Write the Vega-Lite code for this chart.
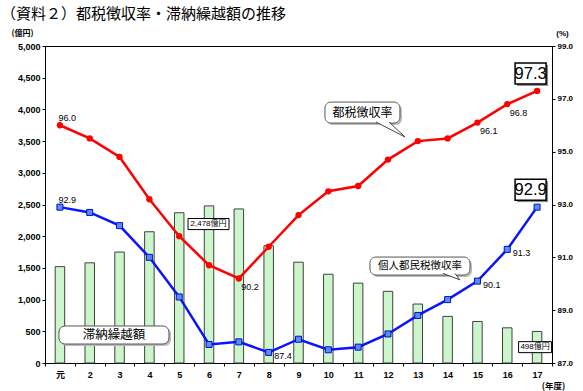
{
  "$schema": "https://vega.github.io/schema/vega-lite/v6.json",
  "width": 507,
  "height": 317,
  "autosize": {"type": "none"},
  "padding": {"left": 45, "top": 46, "right": 31, "bottom": 28},
  "background": "white",
  "title": {
    "text": "（資料２）都税徴収率・滞納繰越額の推移",
    "anchor": "start",
    "frame": "group",
    "font": "Noto Sans CJK JP",
    "fontSize": 15,
    "fontWeight": "normal",
    "color": "#000",
    "dx": -44,
    "offset": 7
  },
  "config": {
    "view": {"stroke": "#000", "strokeWidth": 1},
    "font": "Liberation Sans",
    "axis": {"grid": false, "domainColor": "#000", "tickColor": "#000", "labelColor": "#000", "titleColor": "#000"}
  },
  "datasets": {
    "main": [
      {"year": "元", "amount": 1520, "tax": 96.0, "ind": 92.9},
      {"year": "2", "amount": 1580, "tax": 95.5, "ind": 92.7},
      {"year": "3", "amount": 1750, "tax": 94.8, "ind": 92.2},
      {"year": "4", "amount": 2070, "tax": 93.2, "ind": 91.0},
      {"year": "5", "amount": 2370, "tax": 91.8, "ind": 89.5},
      {"year": "6", "amount": 2478, "tax": 90.7, "ind": 87.7},
      {"year": "7", "amount": 2430, "tax": 90.2, "ind": 87.8},
      {"year": "8", "amount": 1850, "tax": 91.4, "ind": 87.4},
      {"year": "9", "amount": 1590, "tax": 92.6, "ind": 87.9},
      {"year": "10", "amount": 1400, "tax": 93.5, "ind": 87.5},
      {"year": "11", "amount": 1260, "tax": 93.7, "ind": 87.6},
      {"year": "12", "amount": 1130, "tax": 94.7, "ind": 88.1},
      {"year": "13", "amount": 930, "tax": 95.4, "ind": 88.8},
      {"year": "14", "amount": 735, "tax": 95.5, "ind": 89.4},
      {"year": "15", "amount": 655, "tax": 96.1, "ind": 90.1},
      {"year": "16", "amount": 555, "tax": 96.8, "ind": 91.3},
      {"year": "17", "amount": 498, "tax": 97.3, "ind": 92.9}
    ],
    "above": [{"year": "元", "v": 96.0}, {"year": "元", "v": 92.9}],
    "redBelow": [{"year": "7", "v": 90.2}, {"year": "15", "v": 96.1}, {"year": "16", "v": 96.8}],
    "blueRight": [{"year": "8", "v": 87.4}, {"year": "15", "v": 90.1}, {"year": "16", "v": 91.3}],
    "big": [{"year": "17", "v": 97.3}, {"year": "17", "v": 92.9}]
  },
  "encoding": {
    "x": {
      "field": "year",
      "type": "ordinal",
      "sort": null,
      "scale": {"domain": ["元", "2", "3", "4", "5", "6", "7", "8", "9", "10", "11", "12", "13", "14", "15", "16", "17"], "paddingInner": 0, "paddingOuter": 0},
      "axis": {
        "title": "(年度)",
        "titleX": 508,
        "titleY": 22,
        "titleAlign": "center",
        "titleBaseline": "middle",
        "titleFont": "Noto Sans CJK JP",
        "titleFontSize": 8.5,
        "titleFontWeight": "bold",
        "labelAngle": 0,
        "labelFont": "Liberation Sans, Noto Sans CJK JP",
        "labelFontSize": 9,
        "labelFontWeight": "bold",
        "labelPadding": 4,
        "tickBand": "extent",
        "tickSize": 3
      }
    }
  },
  "layer": [
    {
      "data": {"name": "main"},
      "mark": {"type": "bar", "width": 9.5, "fill": "#ccf5cc", "stroke": "#404040", "strokeWidth": 1},
      "encoding": {
        "y": {
          "field": "amount",
          "type": "quantitative",
          "scale": {"domain": [0, 5000], "nice": false},
          "axis": {
            "values": [0, 500, 1000, 1500, 2000, 2500, 3000, 3500, 4000, 4500, 5000],
            "format": ",d",
            "title": "(億円)",
            "titleAngle": 0,
            "titleX": -23,
            "titleY": -13,
            "titleAlign": "center",
            "titleBaseline": "middle",
            "titleFont": "Noto Sans CJK JP",
            "titleFontSize": 8,
            "titleFontWeight": "bold",
            "labelFontSize": 9,
            "labelFontWeight": "bold",
            "labelPadding": 2,
            "tickSize": 3
          }
        }
      }
    },
    {
      "layer": [
        {
          "data": {"name": "main"},
          "mark": {"type": "line", "color": "#ff0000", "strokeWidth": 2.5},
          "encoding": {
            "y": {
              "field": "tax",
              "type": "quantitative",
              "scale": {"domain": [87, 99], "nice": false, "zero": false},
              "axis": {
                "orient": "right",
                "values": [87, 89, 91, 93, 95, 97, 99],
                "format": ".1f",
                "title": "(%)",
                "titleAngle": 0,
                "titleX": 10,
                "titleY": -13,
                "titleAlign": "center",
                "titleBaseline": "middle",
                "titleFontSize": 8,
                "titleFontWeight": "bold",
                "labelFontSize": 8,
                "labelFontWeight": "bold",
                "labelPadding": 2,
                "tickSize": 3
              }
            }
          }
        },
        {
          "data": {"name": "main"},
          "mark": {"type": "point", "filled": true, "shape": "circle", "color": "#ff0000", "size": 40, "opacity": 1},
          "encoding": {"y": {"field": "tax", "type": "quantitative"}}
        },
        {
          "data": {"name": "main"},
          "mark": {"type": "line", "color": "#0a14ff", "strokeWidth": 2.5},
          "encoding": {"y": {"field": "ind", "type": "quantitative"}}
        },
        {
          "data": {"name": "main"},
          "mark": {"type": "point", "shape": "square", "fill": "#5a8cff", "stroke": "#0010c0", "strokeWidth": 1, "fillOpacity": 1, "opacity": 1, "size": 36},
          "encoding": {"y": {"field": "ind", "type": "quantitative"}}
        },
        {
          "data": {"name": "above"},
          "mark": {"type": "text", "fontSize": 9, "color": "#000", "align": "left", "baseline": "middle", "dx": -1.5, "dy": -7.5},
          "encoding": {"y": {"field": "v", "type": "quantitative"}, "text": {"field": "v", "type": "quantitative", "format": ".1f"}}
        },
        {
          "data": {"name": "redBelow"},
          "mark": {"type": "text", "fontSize": 9, "color": "#000", "align": "left", "baseline": "middle", "dx": 2.5, "dy": 8.5},
          "encoding": {"y": {"field": "v", "type": "quantitative"}, "text": {"field": "v", "type": "quantitative", "format": ".1f"}}
        },
        {
          "data": {"name": "blueRight"},
          "mark": {"type": "text", "fontSize": 9, "color": "#000", "align": "left", "baseline": "middle", "dx": 5.5, "dy": 4},
          "encoding": {"y": {"field": "v", "type": "quantitative"}, "text": {"field": "v", "type": "quantitative", "format": ".1f"}}
        },
        {
          "data": {"name": "big"},
          "mark": {"type": "point", "filled": true, "color": "#888888", "opacity": 1, "size": 961, "xOffset": -4.5, "yOffset": -15.5, "shape": "M-1,-0.677H1V0.677H-1Z"},
          "encoding": {"y": {"field": "v", "type": "quantitative"}}
        },
        {
          "data": {"name": "big"},
          "mark": {"type": "point", "fill": "white", "stroke": "#000", "strokeWidth": 1.5, "fillOpacity": 1, "opacity": 1, "size": 961, "xOffset": -6.5, "yOffset": -17.5, "shape": "M-1,-0.677H1V0.677H-1Z"},
          "encoding": {"y": {"field": "v", "type": "quantitative"}}
        },
        {
          "data": {"name": "big"},
          "mark": {"type": "text", "fontSize": 16.5, "color": "#000", "baseline": "middle", "xOffset": -6.5, "yOffset": -17},
          "encoding": {"y": {"field": "v", "type": "quantitative"}, "text": {"field": "v", "type": "quantitative", "format": ".1f"}}
        },
        {
          "data": {"values": [{"note": "滞納繰越額"}]},
          "mark": {"type": "point", "filled": true, "color": "#bbbbbb", "size": 12100, "opacity": 1, "xOffset": -3.6, "yOffset": 2, "shape": "M-0.891,-0.164H0.891A0.109,0.109 0 0 1 1,-0.055V0.055A0.109,0.109 0 0 1 0.891,0.164H-0.891A0.109,0.109 0 0 1 -1,0.055V-0.055A0.109,0.109 0 0 1 -0.891,-0.164Z"},
          "encoding": {"x": {"datum": "3"}, "y": {"datum": 88.06, "type": "quantitative"}}
        },
        {
          "data": {"values": [{"note": "滞納繰越額"}]},
          "mark": {"type": "point", "fill": "white", "stroke": "#555555", "strokeWidth": 1, "opacity": 1, "fillOpacity": 1, "size": 12100, "xOffset": -5.6, "shape": "M-0.891,-0.164H0.891A0.109,0.109 0 0 1 1,-0.055V0.055A0.109,0.109 0 0 1 0.891,0.164H-0.891A0.109,0.109 0 0 1 -1,0.055V-0.055A0.109,0.109 0 0 1 -0.891,-0.164Z"},
          "encoding": {"x": {"datum": "3"}, "y": {"datum": 88.06, "type": "quantitative"}}
        },
        {
          "data": {"values": [{"note": "滞納繰越額"}]},
          "mark": {"type": "text", "font": "Noto Sans CJK JP", "fontSize": 12.5, "color": "#000", "xOffset": -5.6, "baseline": "middle"},
          "encoding": {"x": {"datum": "3"}, "y": {"datum": 88.06, "type": "quantitative"}, "text": {"field": "note"}}
        },
        {
          "data": {"values": [{"label": "2,478億円"}]},
          "mark": {"type": "point", "fill": "white", "stroke": "#000", "strokeWidth": 1, "opacity": 1, "fillOpacity": 1, "size": 1681, "xOffset": -0.5, "shape": "M-1,-0.27H1V0.27H-1Z"},
          "encoding": {"x": {"datum": "6"}, "y": {"datum": 92.26, "type": "quantitative"}}
        },
        {
          "data": {"values": [{"label": "2,478億円"}]},
          "mark": {"type": "text", "font": "Liberation Sans, Noto Sans CJK JP", "fontSize": 8, "color": "#000", "xOffset": -0.5, "baseline": "middle"},
          "encoding": {"x": {"datum": "6"}, "y": {"datum": 92.26, "type": "quantitative"}, "text": {"field": "label"}}
        },
        {
          "data": {"values": [{"label": "498億円"}]},
          "mark": {"type": "point", "fill": "white", "stroke": "#000", "strokeWidth": 1, "opacity": 1, "fillOpacity": 1, "size": 1089, "xOffset": -2, "shape": "M-1,-0.333H1V0.333H-1Z"},
          "encoding": {"x": {"datum": "17"}, "y": {"datum": 87.6, "type": "quantitative"}}
        },
        {
          "data": {"values": [{"label": "498億円"}]},
          "mark": {"type": "text", "font": "Liberation Sans, Noto Sans CJK JP", "fontSize": 8, "color": "#000", "xOffset": -2, "baseline": "middle"},
          "encoding": {"x": {"datum": "17"}, "y": {"datum": 87.6, "type": "quantitative"}, "text": {"field": "label"}}
        },
        {
          "data": {"values": [{"note": "都税徴収率"}]},
          "mark": {"type": "point", "filled": true, "color": "#bbbbbb", "opacity": 1, "size": 5625, "xOffset": 6.3, "yOffset": 2, "shape": "M-0.84,-0.28H0.84A0.16,0.16 0 0 1 1,-0.12V0.12A0.16,0.16 0 0 1 0.84,0.28H-0.84A0.16,0.16 0 0 1 -1,0.12V-0.12A0.16,0.16 0 0 1 -0.84,-0.28Z"},
          "encoding": {"x": {"datum": "11"}, "y": {"datum": 96.48, "type": "quantitative"}}
        },
        {
          "data": {"values": [{"note": "都税徴収率"}]},
          "mark": {"type": "point", "fill": "white", "stroke": "#555555", "strokeWidth": 1, "fillOpacity": 1, "opacity": 1, "size": 5625, "xOffset": 4.3, "shape": "M-0.84,-0.28H0.84A0.16,0.16 0 0 1 1,-0.12V0.12A0.16,0.16 0 0 1 0.84,0.28H-0.84A0.16,0.16 0 0 1 -1,0.12V-0.12A0.16,0.16 0 0 1 -0.84,-0.28Z"},
          "encoding": {"x": {"datum": "11"}, "y": {"datum": 96.48, "type": "quantitative"}}
        },
        {
          "data": {"values": [{"note": "都税徴収率"}]},
          "mark": {"type": "point", "fill": "white", "stroke": "#444444", "strokeWidth": 1, "fillOpacity": 1, "opacity": 1, "size": 841, "xOffset": 2.5, "shape": "M-1,-0.55L1,0.48L-0.1,-0.55"},
          "encoding": {"x": {"datum": "12"}, "y": {"datum": 95.82, "type": "quantitative"}}
        },
        {
          "data": {"values": [{"note": "都税徴収率"}]},
          "mark": {"type": "text", "font": "Noto Sans CJK JP", "fontSize": 12, "color": "#000", "baseline": "middle", "xOffset": 4.3},
          "encoding": {"x": {"datum": "11"}, "y": {"datum": 96.48, "type": "quantitative"}, "text": {"field": "note"}}
        },
        {
          "data": {"values": [{"note": "個人都民税徴収率"}]},
          "mark": {"type": "point", "filled": true, "color": "#bbbbbb", "opacity": 1, "size": 10000, "xOffset": 4.2, "yOffset": 2, "shape": "M-0.88,-0.18H0.88A0.12,0.12 0 0 1 1,-0.06V0.06A0.12,0.12 0 0 1 0.88,0.18H-0.88A0.12,0.12 0 0 1 -1,0.06V-0.06A0.12,0.12 0 0 1 -0.88,-0.18Z"},
          "encoding": {"x": {"datum": "13"}, "y": {"datum": 90.67, "type": "quantitative"}}
        },
        {
          "data": {"values": [{"note": "個人都民税徴収率"}]},
          "mark": {"type": "point", "fill": "white", "stroke": "#555555", "strokeWidth": 1, "fillOpacity": 1, "opacity": 1, "size": 10000, "xOffset": 2.2, "shape": "M-0.88,-0.18H0.88A0.12,0.12 0 0 1 1,-0.06V0.06A0.12,0.12 0 0 1 0.88,0.18H-0.88A0.12,0.12 0 0 1 -1,0.06V-0.06A0.12,0.12 0 0 1 -0.88,-0.18Z"},
          "encoding": {"x": {"datum": "13"}, "y": {"datum": 90.67, "type": "quantitative"}}
        },
        {
          "data": {"values": [{"note": "個人都民税徴収率"}]},
          "mark": {"type": "point", "fill": "white", "stroke": "#444444", "strokeWidth": 1, "fillOpacity": 1, "opacity": 1, "size": 289, "xOffset": 3.8, "shape": "M-1,-0.41L1,0.35L0.41,-0.41"},
          "encoding": {"x": {"datum": "14"}, "y": {"datum": 90.26, "type": "quantitative"}}
        },
        {
          "data": {"values": [{"note": "個人都民税徴収率"}]},
          "mark": {"type": "text", "font": "Noto Sans CJK JP", "fontSize": 10.5, "color": "#000", "baseline": "middle", "xOffset": 2.2},
          "encoding": {"x": {"datum": "13"}, "y": {"datum": 90.67, "type": "quantitative"}, "text": {"field": "note"}}
        }
      ]
    }
  ],
  "resolve": {"scale": {"y": "independent"}}
}
